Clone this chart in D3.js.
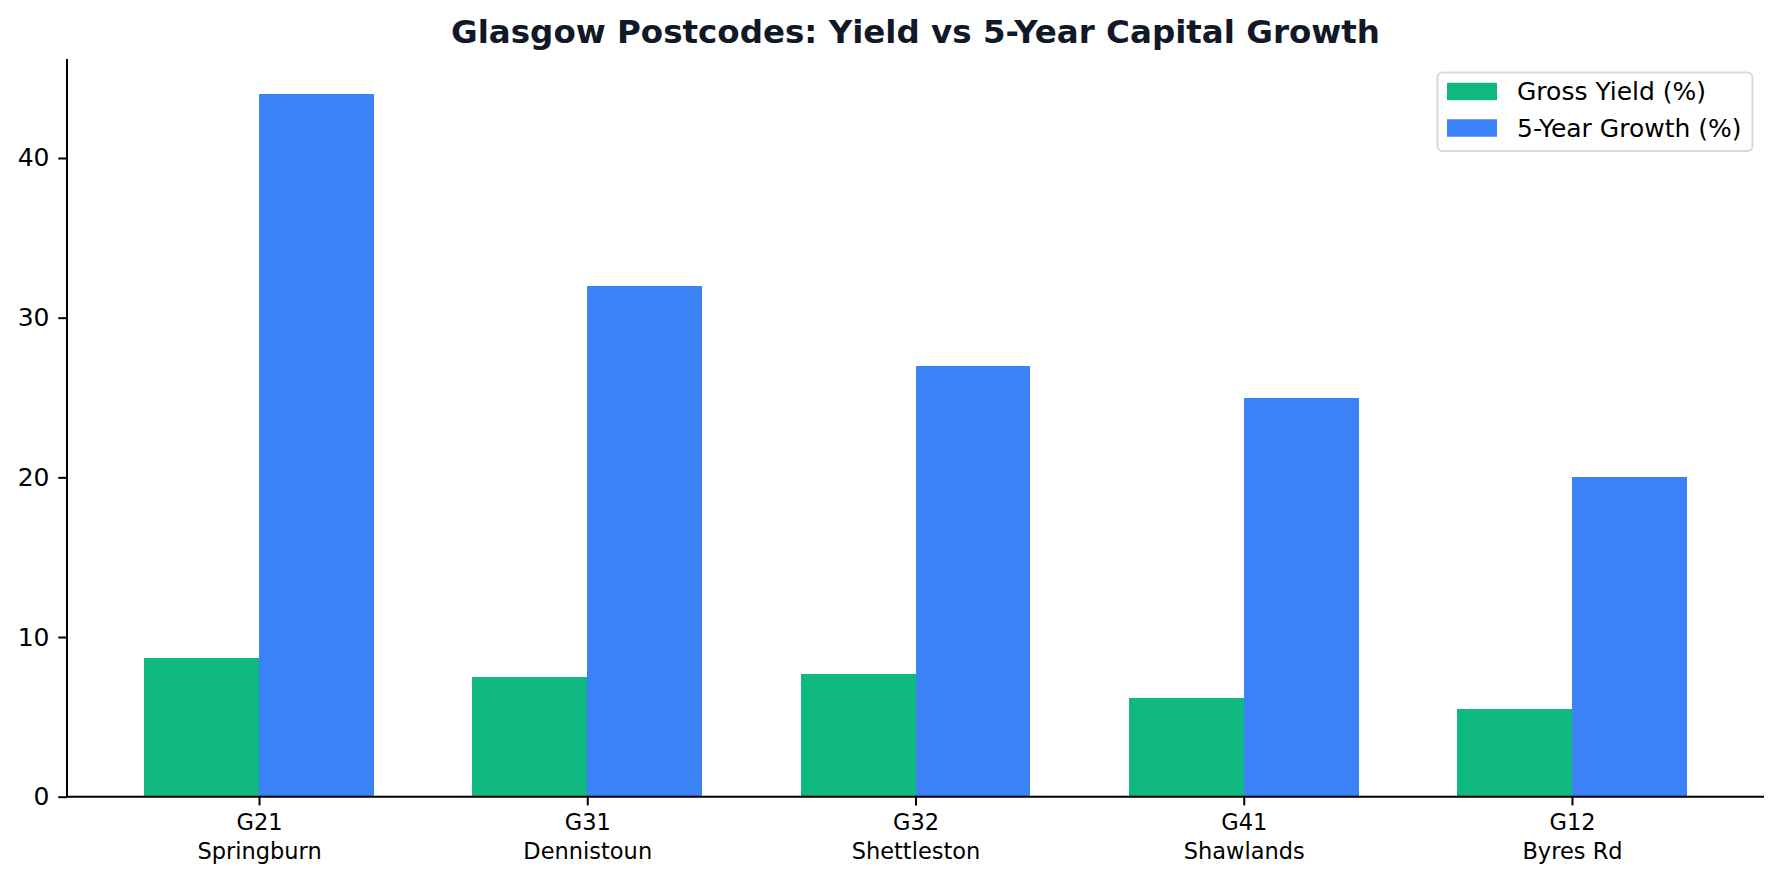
<!DOCTYPE html>
<html>
<head>
<meta charset="utf-8">
<script src="https://cdn.jsdelivr.net/npm/d3@7"></script>
<style>
  html, body { margin: 0; padding: 0; background: #ffffff; }
  svg { display: block; font-family: "DejaVu Sans", sans-serif; }
</style>
</head>
<body>
<svg id="chart" width="1782" height="882"></svg>
<script>
const codes = ["G21", "G31", "G32", "G41", "G12"];
const areas = ["Springburn", "Dennistoun", "Shettleston", "Shawlands", "Byres Rd"];
const grossYield = [8.7, 7.5, 7.7, 6.2, 5.5];
const growth5y = [44, 32, 27, 25, 20];
const yTicks = [0, 10, 20, 30, 40];
const seriesNames = ["Gross Yield (%)", "5-Year Growth (%)"];
const seriesColors = ["#10b981", "#3b82f6"];
const chartTitle = "Glasgow Postcodes: Yield vs 5-Year Capital Growth";

(function () {
const svg = d3.select("#chart");
const pLeft = 67, pRight = 1764, pTop = 59, pBottom = 796.7;
const barW = 0.35;
const n = codes.length;
const span = (n - 1) + 2 * barW;
const xMin = -barW - 0.05 * span, xMax = (n - 1) + barW + 0.05 * span;

const x = d3.scaleLinear().domain([xMin, xMax]).range([pLeft, pRight]);
const yMax = d3.max(growth5y) * 1.05;
const y = d3.scaleLinear().domain([0, yMax]).range([pBottom, pTop]);

// bars
const series = [grossYield, growth5y];
series.forEach((vals, s) => {
  svg.append("g").attr("shape-rendering", "crispEdges")
    .selectAll("rect").data(vals).join("rect")
    .attr("x", (d, i) => x(i + (s === 0 ? -barW : 0)))
    .attr("width", (d, i) => x(i + barW) - x(i))
    .attr("y", d => y(d))
    .attr("height", d => y(0) - y(d))
    .attr("fill", seriesColors[s]);
});

// y axis
const yAxis = svg.append("g").attr("transform", `translate(${pLeft},0)`)
  .call(d3.axisLeft(y).tickValues(yTicks).tickSize(8.75).tickPadding(8.75).tickFormat(d3.format("d")));
yAxis.select(".domain").remove();
yAxis.selectAll(".tick line").attr("stroke", "#000").attr("stroke-width", 2);
yAxis.selectAll(".tick text").attr("font-size", 25).attr("fill", "#000").attr("font-family", "DejaVu Sans");

// x axis
const xAxis = svg.append("g").attr("transform", `translate(0,${pBottom})`)
  .call(d3.axisBottom(x).tickValues(d3.range(n)).tickSize(8.75).tickPadding(8.75).tickFormat(() => ""));
xAxis.select(".domain").remove();
xAxis.selectAll(".tick line").attr("stroke", "#000").attr("stroke-width", 2);
xAxis.selectAll(".tick text").each(function (d) {
  const t = d3.select(this).attr("font-size", 22.5).attr("fill", "#000").attr("font-family", "DejaVu Sans");
  t.append("tspan").attr("x", 0).attr("dy", "0.71em").text(codes[d]);
  t.append("tspan").attr("x", 0).attr("dy", "1.3em").text(areas[d]);
});

// spines
svg.append("line").attr("x1", pLeft).attr("x2", pLeft).attr("y1", pTop).attr("y2", pBottom)
  .attr("stroke", "#000").attr("stroke-width", 2);
svg.append("line").attr("x1", pLeft - 1).attr("x2", pRight).attr("y1", pBottom).attr("y2", pBottom)
  .attr("stroke", "#000").attr("stroke-width", 2);

// title
svg.append("text").attr("x", (pLeft + pRight) / 2).attr("y", 32).attr("dy", "0.35em")
  .attr("text-anchor", "middle").attr("font-size", 32.5).attr("font-weight", "bold")
  .attr("fill", "#111827").text(chartTitle);

// legend
const lg = svg.append("g");
lg.append("rect").attr("x", 1437.5).attr("y", 72.5).attr("width", 315).attr("height", 78.5)
  .attr("rx", 5).attr("fill", "#fff").attr("fill-opacity", 0.8)
  .attr("stroke", "#d9d9d9").attr("stroke-width", 2);
const rowsY = [91.5, 128];
seriesNames.forEach((name, i) => {
  lg.append("rect").attr("x", 1447).attr("y", rowsY[i] - 8.75).attr("width", 50).attr("height", 17.5)
    .attr("fill", seriesColors[i]);
  lg.append("text").attr("x", 1517).attr("y", rowsY[i]).attr("dy", "0.35em")
    .attr("font-size", 25).attr("fill", "#000").text(name);
});
})();
</script>
</body>
</html>
